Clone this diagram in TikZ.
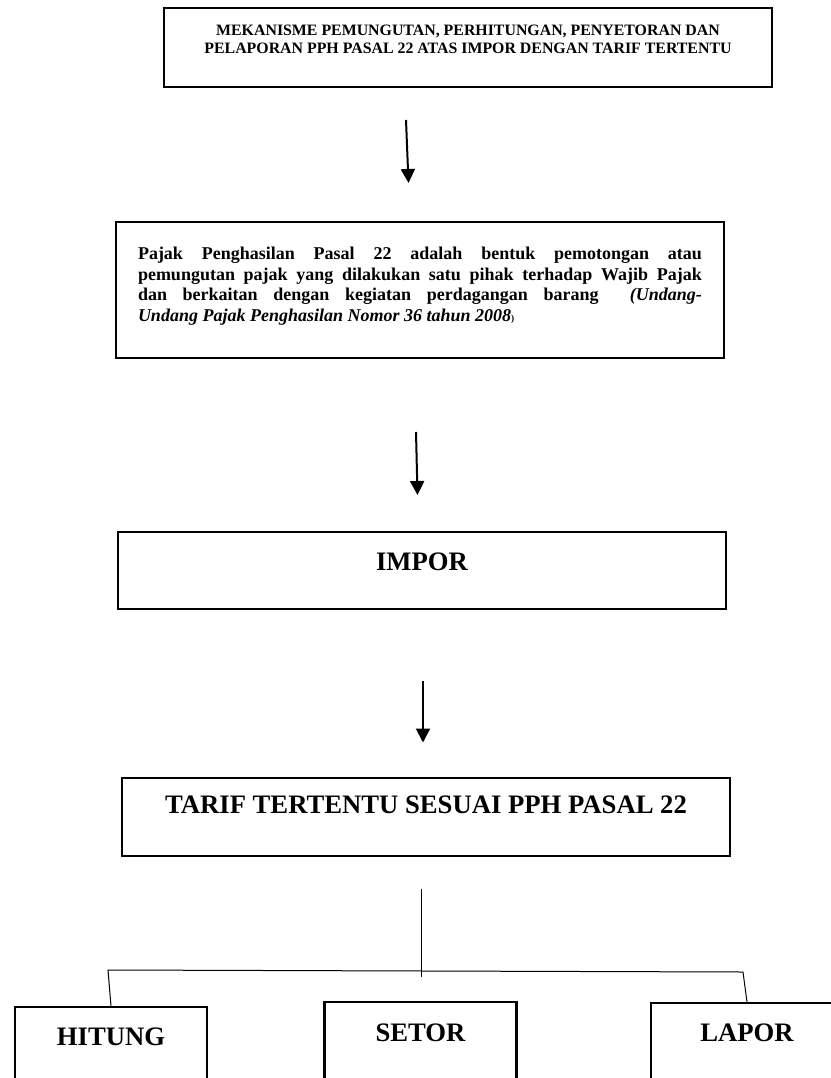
\documentclass[tikz,border=0pt]{standalone}
\usepackage{fontspec}
\setmainfont{Liberation Serif}
\usetikzlibrary{arrows.meta, positioning}
\tikzset{
  box/.style={rectangle, draw=black, line width=1.8pt, anchor=north,
              inner xsep=0pt, inner ysep=0pt},
  bigbox/.style={box, minimum width=456pt},
  lowbox/.style={box, minimum width=144pt, text height=28.5pt, text depth=70pt,
                 font=\fontsize{20}{24}\selectfont\bfseries},
  bigtxt/.style={font=\fontsize{20}{24}\selectfont\bfseries},
  arr/.style={-{Triangle[length=10.5pt, width=10.5pt]}, line width=1.5pt},
  tree/.style={line width=0.75pt},
}

\begin{document}
\begin{tikzpicture}[x=0.75pt, y=-0.75pt]
  \useasboundingbox (0,0) rectangle (831,1078);
  \begin{scope}
  \clip (0,0) rectangle (831,1078);
  %% judul
  \node[bigbox, text height=20.25pt, text depth=39pt,
        font=\fontsize{11.9}{13.5}\selectfont\bfseries] (mek) at (468,7)
    {\parbox[t]{456pt}{\centering MEKANISME PEMUNGUTAN, PERHITUNGAN, PENYETORAN DAN\\
      PELAPORAN PPH PASAL 22 ATAS IMPOR DENGAN TARIF TERTENTU}};
  %% definisi
  \node[bigbox, inner xsep=16.5pt, text height=28pt, text depth=74pt,
        font=\fontsize{13.5}{15.5}\selectfont\bfseries] (def) at (420,221)
    {\parbox[t]{423pt}{\tolerance=10000 \hyphenpenalty=10000
      Pajak Penghasilan Pasal 22 adalah bentuk pemotongan atau\linebreak
      pemungutan pajak yang dilakukan satu pihak terhadap Wajib Pajak\linebreak
      dan berkaitan dengan kegiatan perdagangan barang\ \ \textit{(Undang-}\linebreak
      \textit{Undang Pajak Penghasilan Nomor 36 tahun 2008}{\scriptsize)}}};
  %% impor dan tarif
  \node[bigbox, bigtxt, text height=28.5pt, text depth=29.25pt] (impor) at (422,531) {IMPOR};
  \node[bigbox, bigtxt, text height=26.25pt, text depth=32.25pt] (tarif) at (426,777)
    {TARIF TERTENTU SESUAI PPH PASAL 22};
  %% hitung, setor, lapor
  \node[lowbox] (hitung) at (111,1006) {HITUNG};
  \node[lowbox, text height=29.25pt] (setor) at (420.5,1001) {SETOR};
  \node[lowbox] (lapor) at (747,1002) {LAPOR};
  %% panah
  \coordinate (a1) at (406,120);   \coordinate (b1) at (408.5,183);
  \coordinate (a2) at (416,432);   \coordinate (b2) at (417.5,495);
  \coordinate (a3) at (423,681);   \coordinate (b3) at (423,742.5);
  \foreach \a/\b in {a1/b1,a2/b2,a3/b3}
    \draw[arr] (\a) -- (\b);
  %% cabang
  \coordinate (stem) at (421,889);
  \coordinate (stemend) at (421,977);
  \coordinate (hl) at (108,970);
  \coordinate (hr) at (743,972);
  \draw[tree] (stem) -- (stemend);
  \draw[tree] (hitung.north) -- (hl) -- (hr) -- (lapor.north);
  \end{scope}
\end{tikzpicture}
\end{document}
